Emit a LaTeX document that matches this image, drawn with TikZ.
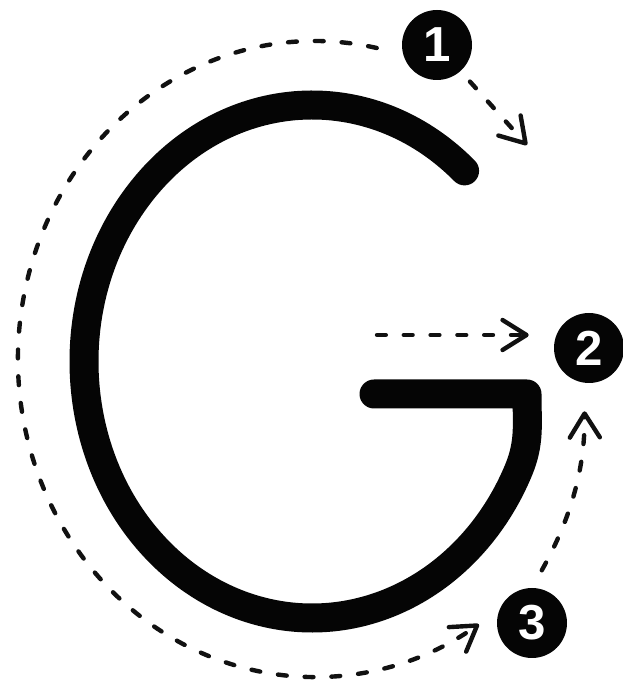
\documentclass[tikz,border=0pt]{standalone}
\usepackage{fontspec}
\setsansfont{Liberation Sans}
\usepackage{tikz}
\usetikzlibrary{arrows.meta}
\definecolor{LetterInk}{HTML}{050505}
\definecolor{GuideInk}{HTML}{111111}

\begin{document}
\begin{tikzpicture}[
    letter/.style={LetterInk, line width=0.725cm, line cap=round, line join=round},
    guide/.style={GuideInk, line width=0.11cm, dash pattern=on 0.22cm off 0.45cm, line cap=round,
      -{Straight Barb[length=0.6cm,width=0.75cm,line cap=round,line join=round]}},
    badge/.style={circle, fill=LetterInk, minimum size=1.75cm, inner sep=0pt, text=white,
      font=\sffamily\bfseries\fontsize{35}{35}\selectfont}
  ]
    \useasboundingbox (0,0) rectangle (15.55,17.35);
    % the letter G
    \draw[letter] (7.8,8.3125) ++(48:5.7 and 6.4125)
      arc[start angle=48, end angle=335, x radius=5.7, y radius=6.4125]
      to[out=67.5, in=-90] (13.175,7.5) -- (9.35,7.5);
    % stroke order badges
    \node[badge] (n1) at (10.925,16.225) {1};
    \node[badge] (n2) at (14.725,8.65) {2};
    \node[badge] (n3) at (13.3,1.775) {3};
    \coordinate (tip1) at (13.175,13.725);
    \coordinate (feed2) at (9.425,8.975);
    % guides
    \draw[guide] (n1.west) ++(-0.625,-0.075)
      arc[start angle=78, end angle=303.5, x radius=7.425, y radius=7.95];
    \draw[guide, shorten <=0.35cm] (n1) -- (tip1);
    \draw[guide, shorten >=0.625cm] (feed2) -- (feed2 -| n2.west);
    \draw[guide, shorten <=0.5cm, shorten >=0.7cm] (n3.north) to[bend right=15] ([xshift=-0.12cm]n2.south);
  \end{tikzpicture}
\end{document}
